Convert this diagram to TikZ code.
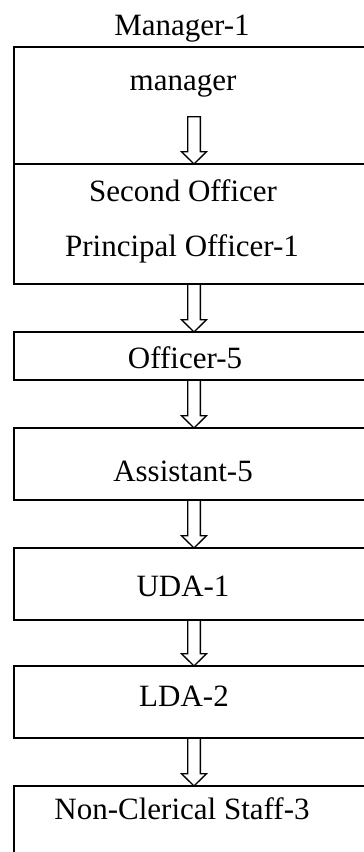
\documentclass[tikz,border=0pt]{standalone}
\usepackage{fontspec}
\setmainfont{Liberation Serif}
\usetikzlibrary{calc}

\tikzset{
  post/.style={draw, line width=1.5pt, minimum width=360pt, inner sep=0pt, outer sep=0pt},
  rank/.style={anchor=base, inner sep=0pt},
  hollow/.style={draw, line width=1.3pt, line join=miter}
}
% block arrow from #1 down to #2
\newcommand{\hollowarrow}[2]{%
  \draw[hollow] let \p1=(#1), \p2=(#2) in
    (\x1-6.35pt,\y1) -- (\x1-6.35pt,\y2+12.3pt) -- (\x1-12.5pt,\y2+12.3pt) -- (\x1,\y2)
    -- (\x1+12.5pt,\y2+12.3pt) -- (\x1+6.35pt,\y2+12.3pt) -- (\x1+6.35pt,\y1) -- cycle;}

\begin{document}
\begin{tikzpicture}[x=1pt, y=-1pt, every node/.style={font=\fontsize{31}{37}\selectfont}]
  \clip (0,0) rectangle (364,852);
  % boxes
  \node[post, minimum height=117pt] (mgrbox) at (194,105.5) {};
  \node[post, minimum height=120pt] (sobox) at (194,224) {};
  \node[post, minimum height=48pt] (offbox) at (194,356) {};
  \node[post, minimum height=72pt] (asstbox) at (194,464) {};
  \node[post, minimum height=72pt] (udabox) at (194,584) {};
  \node[post, minimum height=72pt] (ldabox) at (194,702) {};
  \node[post, minimum height=80pt] (ncbox) at (194,826) {};
  % texts
  \node[rank] (title) at (182,35) {Manager-1};
  \node[rank] (mgr) at (183,90.5) {manager};
  \node[rank] (second) at (183,201.7) {Second Officer};
  \node[rank] (principal) at (182,256.7) {Principal Officer-1};
  \node[rank] (off) at (185,368.3) {Officer-5};
  \node[rank] (asst) at (183,481.7) {Assistant-5};
  \node[rank] (uda) at (183,596.7) {UDA-1};
  \node[rank] (lda) at (184,706.7) {LDA-2};
  \node[rank] (nc) at (182,819.3) {Non-Clerical Staff-3};
  % arrows
  \coordinate (mgrout) at (194,116.7);
  \hollowarrow{mgrout}{sobox.north}
  \hollowarrow{sobox.south}{offbox.north}
  \hollowarrow{offbox.south}{asstbox.north}
  \hollowarrow{asstbox.south}{udabox.north}
  \hollowarrow{udabox.south}{ldabox.north}
  \hollowarrow{ldabox.south}{ncbox.north}
\end{tikzpicture}
\end{document}
